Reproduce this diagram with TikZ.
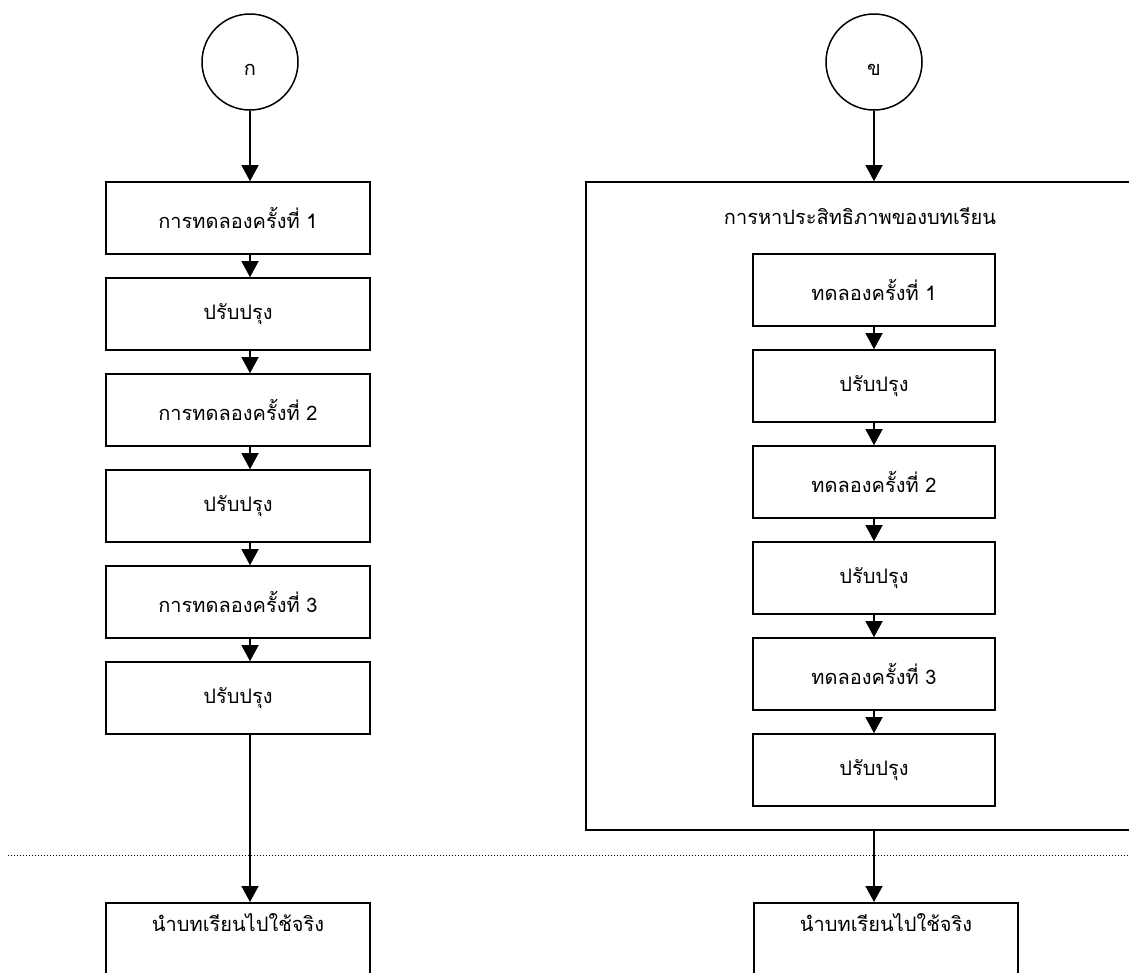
\documentclass[tikz,border=0pt]{standalone}
\usepackage{fontspec}
\newfontfamily\thaifont[Script=Thai]{Loma}
\usetikzlibrary{arrows.meta}

\tikzset{
  thaitext/.style={font=\thaifont\fontsize{20}{24}\selectfont},
  stepbox/.style={draw=black, line width=1.6pt, rectangle, minimum height=72pt,
                  inner sep=0pt, thaitext},
  connector/.style={circle, draw=black, line width=1.5pt, minimum size=96pt,
                    inner sep=0pt},
  plainlabel/.style={inner sep=0pt, thaitext},
  flow/.style={line width=1.4pt, -{Triangle[length=16pt,width=17pt]}},
  divider/.style={line width=1pt, dash pattern=on 1pt off 2pt}
}

\begin{document}
\begin{tikzpicture}[x=1pt, y=-1pt]
  \useasboundingbox (0,0) rectangle (1129,972);
  \clip (0,0) rectangle (1129,972);
  \fill[white] (0,0) rectangle (1129,972);

  % dotted divider between the trial phase and real use
  \coordinate (divL) at (8,855);
  \coordinate (divR) at (1129,855);
  \draw[divider] (divL) -- (divR);

  % ---------------- left flow ----------------
  \node[connector, label={[plainlabel, yshift=-8pt]center:ก}] (cA) at (250,62) {};
  \node[stepbox, minimum width=264pt] (L1) at (238,218) {การทดลองครั้งที่ 1};
  \node[stepbox, minimum width=264pt] (L2) at (238,314) {ปรับปรุง};
  \node[stepbox, minimum width=264pt] (L3) at (238,410) {การทดลองครั้งที่ 2};
  \node[stepbox, minimum width=264pt] (L4) at (238,506) {ปรับปรุง};
  \node[stepbox, minimum width=264pt] (L5) at (238,602) {การทดลองครั้งที่ 3};
  \node[stepbox, minimum width=264pt] (L6) at (238,698) {ปรับปรุง};
  \node[stepbox, minimum width=264pt, minimum height=140pt, anchor=north] (L7) at (238,902) {};
  \node[plainlabel] (L7t) at (238,923) {นำบทเรียนไปใช้จริง};

  \draw[flow] (cA.south) -- (cA.south |- L1.north);
  \draw[flow] (L1.south -| cA) -- (L2.north -| cA);
  \draw[flow] (L2.south -| cA) -- (L3.north -| cA);
  \draw[flow] (L3.south -| cA) -- (L4.north -| cA);
  \draw[flow] (L4.south -| cA) -- (L5.north -| cA);
  \draw[flow] (L5.south -| cA) -- (L6.north -| cA);
  \draw[flow] (L6.south -| cA) -- (L7.north -| cA);

  % ---------------- right flow ----------------
  \node[connector, label={[plainlabel, yshift=-8pt]center:ข}] (cB) at (874,62) {};
  \node[draw=black, line width=1.6pt, rectangle, inner sep=0pt,
        minimum width=545pt, minimum height=648pt] (G) at (858.5,506) {};
  \node[plainlabel] (Gt) at (860,216) {การหาประสิทธิภาพของบทเรียน};

  \node[stepbox, minimum width=242pt] (R1) at (874,290) {ทดลองครั้งที่ 1};
  \node[stepbox, minimum width=242pt] (R2) at (874,386) {ปรับปรุง};
  \node[stepbox, minimum width=242pt] (R3) at (874,482) {ทดลองครั้งที่ 2};
  \node[stepbox, minimum width=242pt] (R4) at (874,578) {ปรับปรุง};
  \node[stepbox, minimum width=242pt] (R5) at (874,674) {ทดลองครั้งที่ 3};
  \node[stepbox, minimum width=242pt] (R6) at (874,770) {ปรับปรุง};
  \node[stepbox, minimum width=264pt, minimum height=140pt, anchor=north] (R7) at (886,902) {};
  \node[plainlabel] (R7t) at (886,923) {นำบทเรียนไปใช้จริง};

  \draw[flow] (cB.south) -- (cB.south |- G.north);
  \draw[flow] (R1.south -| cB) -- (R2.north -| cB);
  \draw[flow] (R2.south -| cB) -- (R3.north -| cB);
  \draw[flow] (R3.south -| cB) -- (R4.north -| cB);
  \draw[flow] (R4.south -| cB) -- (R5.north -| cB);
  \draw[flow] (R5.south -| cB) -- (R6.north -| cB);
  \draw[flow] (G.south -| cB) -- (R7.north -| cB);
\end{tikzpicture}
\end{document}
